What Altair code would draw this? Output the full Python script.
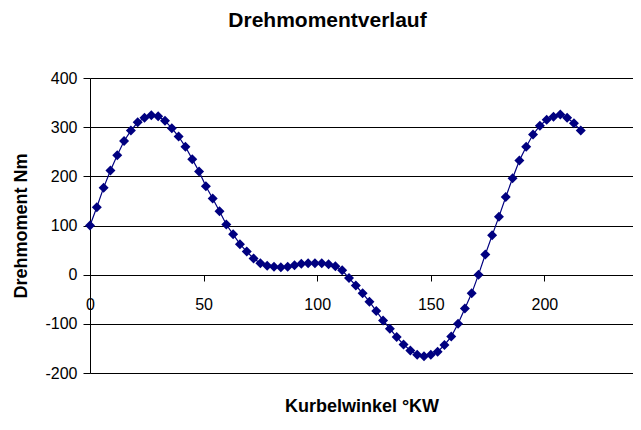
import altair as alt
import pandas as pd

winkel = list(range(0, 217, 3))
moment = [100, 137, 177, 212, 243, 272, 293, 310, 319, 324, 322, 313, 298, 281, 260,
          235, 210, 180, 155, 129, 102, 82, 62, 47, 33, 23, 18, 16, 15, 16,
          19, 22, 23, 23, 23, 21, 17, 9, -7, -22, -38, -55, -74, -93, -110,
          -127, -142, -154, -163, -166, -163, -157, -143, -126, -100, -69, -38, 0, 41, 80,
          118, 158, 196, 232, 260, 285, 303, 315, 321, 326, 319, 308, 293]

x_ticks = [0, 50, 100, 150, 200]
y_ticks = [-200, -100, 0, 100, 200, 300, 400]

df = pd.DataFrame({"Winkel": winkel, "Moment": moment})

FONT = "Liberation Sans"
NAVY = "#000080"

x_enc = alt.X("Winkel:Q", scale=alt.Scale(domain=[0, 239], nice=False, zero=False),
              axis=alt.Axis(values=x_ticks, title="Kurbelwinkel °KW", grid=False,
                            offset=-98, tickSize=6, tickColor="black", domainColor="black",
                            labelPadding=15, labelFontSize=16, labelFont=FONT, labelColor="black",
                            labelFlush=False, labelExpr="'' + datum.value",
                            titleFont=FONT, titleFontSize=18, titleFontWeight="bold",
                            titleColor="black", titleY=131, titleBaseline="middle"))
y_enc = alt.Y("Moment:Q", scale=alt.Scale(domain=[-200, 400], nice=False),
              axis=alt.Axis(values=y_ticks, title="Drehmoment Nm", grid=True,
                            gridColor="black", gridWidth=1, gridOpacity=1,
                            tickSize=7, tickColor="black", domainColor="black",
                            labelPadding=6, labelFontSize=16, labelFont=FONT, labelColor="black",
                            labelExpr="'' + datum.value",
                            titleFont=FONT, titleFontSize=18, titleFontWeight="bold",
                            titleColor="black", titlePadding=14))

line = alt.Chart(df).mark_line(color=NAVY, strokeWidth=1.2).encode(x=x_enc, y=y_enc)
pts = alt.Chart(df).mark_point(shape="diamond", filled=True, color=NAVY, size=100, opacity=1).encode(
    x="Winkel:Q", y="Moment:Q")

chart = (line + pts).properties(
    width=543, height=295,
    title=alt.TitleParams("Drehmomentverlauf", font=FONT, fontSize=21, fontWeight="bold",
                          color="black", anchor="middle", dx=-34, offset=39),
    padding={"left": 82, "top": 70, "right": 0, "bottom": 43},
    autosize=alt.AutoSizeParams(type="none"),
).configure_view(stroke="#808080", strokeWidth=1).configure(background="white")

chart.save("out.html", embed_options={"renderer": "svg", "actions": False})
